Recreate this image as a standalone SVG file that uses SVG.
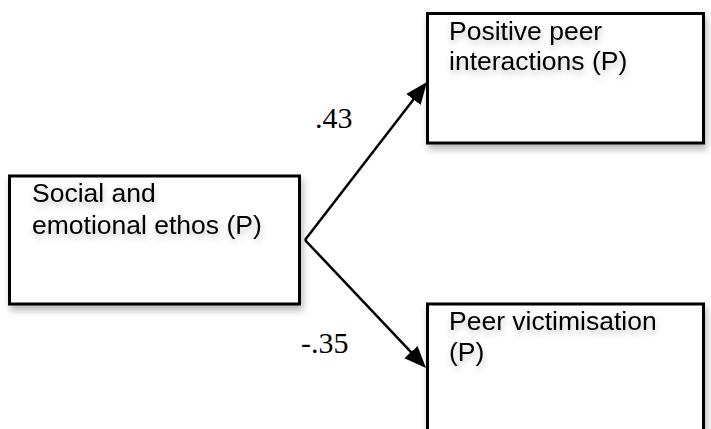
<svg xmlns="http://www.w3.org/2000/svg" width="711" height="429" viewBox="0 0 711 429">
  <defs>
    <filter id="shadow" x="-10%" y="-10%" width="125%" height="130%">
      <feDropShadow dx="2" dy="5" stdDeviation="3.5" flood-color="#000" flood-opacity="0.28"/>
    </filter>
    <filter id="tshadow" x="-10%" y="-30%" width="125%" height="170%">
      <feDropShadow dx="1" dy="4" stdDeviation="3" flood-color="#000" flood-opacity="0.22"/>
    </filter>
    <marker id="arrow" markerUnits="userSpaceOnUse" markerWidth="24" markerHeight="20" refX="16" refY="9" orient="auto">
      <path d="M0,0 L22,9 L0,18 z" fill="#000"/>
    </marker>
  </defs>
  <style>
    .box { fill: #fff; stroke: #000; stroke-width: 3; }
    .lbl { font-family: "Liberation Sans", Arial, sans-serif; font-size: 26.5px; fill: #000; }
    .coef { font-family: "Liberation Serif", "Times New Roman", serif; font-size: 30px; fill: #000; }
    .edge { stroke: #000; stroke-width: 2.5; fill: none; marker-end: url(#arrow); }
  </style>
  <rect width="711" height="429" fill="#fff"/>

  <g id="connectors">
    <line class="edge" x1="305" y1="240" x2="423.3" y2="86.8"/>
    <line class="edge" x1="305" y1="240" x2="421.9" y2="363.6"/>
    <text class="coef" x="315" y="128">.43</text>
    <text class="coef" x="301" y="353">-.35</text>
  </g>

  <g id="node-social">
    <rect class="box" x="9.5" y="176" width="290" height="128" filter="url(#shadow)"/>
    <g filter="url(#tshadow)">
      <text class="lbl" x="32" y="202">Social and</text>
      <text class="lbl" x="32" y="234">emotional ethos (P)</text>
    </g>
  </g>

  <g id="node-positive">
    <rect class="box" x="427.5" y="13.5" width="276" height="129.5" filter="url(#shadow)"/>
    <g filter="url(#tshadow)">
      <text class="lbl" x="449" y="40">Positive peer</text>
      <text class="lbl" x="449" y="70">interactions (P)</text>
    </g>
  </g>

  <g id="node-victim">
    <rect class="box" x="427.5" y="304" width="276" height="140" filter="url(#shadow)"/>
    <g filter="url(#tshadow)">
      <text class="lbl" x="449" y="330">Peer victimisation</text>
      <text class="lbl" x="449" y="361">(P)</text>
    </g>
  </g>
</svg>
